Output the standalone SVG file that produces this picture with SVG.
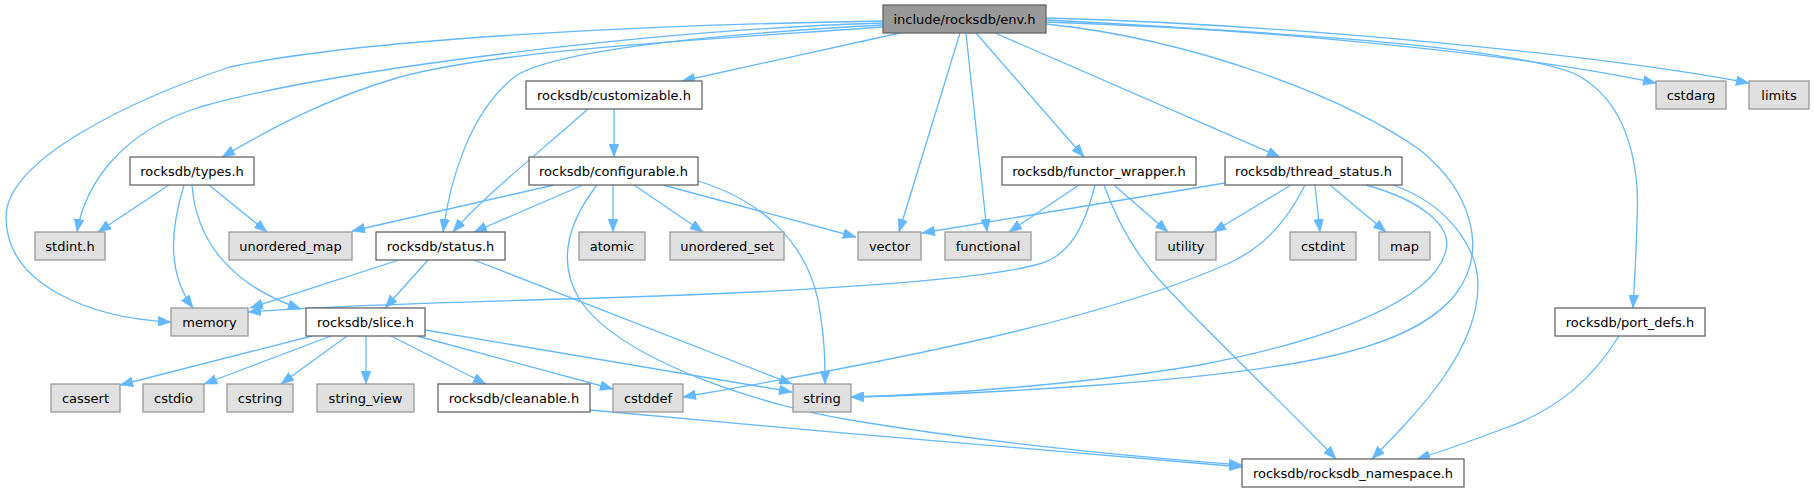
<svg xmlns="http://www.w3.org/2000/svg" width="1814" height="492" viewBox="0 0 1814 492">
<style>
rect{stroke-width:1.3}
.n rect{fill:#ffffff;stroke:#666666}
.x rect{fill:#e0e0e0;stroke:#999999}
.r rect{fill:#999999;stroke:#666666}
text{font-family:"DejaVu Sans","Liberation Sans",sans-serif;font-size:13px;fill:#000000;text-anchor:middle}
#edges path{fill:none;stroke:#63b8ff;stroke-width:1.3;marker-end:url(#ah)}
</style>
<defs>
<marker id="ah" viewBox="0 0 13 10" refX="13" refY="5" markerWidth="13" markerHeight="10" markerUnits="userSpaceOnUse" orient="auto">
<path d="M0,0 L13,5 L0,10 z" fill="#63b8ff" stroke="#63b8ff" stroke-width="0.5"/>
</marker>
</defs>
<rect width="1814" height="492" fill="#ffffff" stroke="none"/>
<g id="edges">
<path d="M883,21 C700,24 380,35 230,67 C130,100 6,160 6,217 C6,285 90,318 171,322"/>
<path d="M883,23 C650,30 330,70 200,107 C120,132 85,185 77,232"/>
<path d="M883,27 C700,40 500,50 400,77 C320,100 260,135 222,157"/>
<path d="M883,25 C700,35 560,50 517,75 C470,110 450,180 443,232"/>
<path d="M900,33 L682,81"/>
<path d="M960,33 L899,232"/>
<path d="M966,33 L987,232"/>
<path d="M976,33 L1084,157"/>
<path d="M995,33 L1280,157"/>
<path d="M1046,20 C1250,30 1500,50 1656,83"/>
<path d="M1046,18 C1300,25 1600,55 1749,83"/>
<path d="M1046,22 C1250,30 1500,45 1573,73 C1630,100 1640,170 1637,220 C1636,260 1634,290 1633,308"/>
<path d="M1046,24 C1200,40 1350,100 1420,150 C1470,190 1490,250 1455,295 C1410,350 1300,370 1100,385 C1000,392 900,396 851,397"/>
<path d="M614,109 L614,157"/>
<path d="M588,109 C530,160 480,200 453,232"/>
<path d="M169,185 L98,232"/>
<path d="M184,185 C172,225 165,270 193,308"/>
<path d="M192,185 C196,240 230,285 301,309"/>
<path d="M209,185 L267,232"/>
<path d="M554,185 L352,231"/>
<path d="M583,185 L474,232"/>
<path d="M613,185 L613,232"/>
<path d="M634,185 L703,232"/>
<path d="M663,185 L856,237"/>
<path d="M698,181 C760,200 805,240 818,300 C825,340 825,360 825,384"/>
<path d="M597,185 C570,220 555,260 580,300 C620,360 760,405 850,420 C1000,445 1150,458 1242,465"/>
<path d="M590,410 C800,430 1100,455 1242,467"/>
<path d="M399,260 L250,308"/>
<path d="M428,260 L385,308"/>
<path d="M474,260 L792,384"/>
<path d="M312,336 L120,385"/>
<path d="M331,336 L204,384"/>
<path d="M347,336 L281,384"/>
<path d="M366,336 L366,384"/>
<path d="M391,336 L486,384"/>
<path d="M417,336 L613,389"/>
<path d="M425,330 L792,392"/>
<path d="M1079,185 L1009,232"/>
<path d="M1114,185 L1168,232"/>
<path d="M1095,185 C1085,225 1070,258 1035,265 C980,280 800,292 600,298 C450,302 320,306 248,312"/>
<path d="M1104,185 C1120,230 1140,260 1164,285 C1220,345 1290,410 1336,459"/>
<path d="M1225,183 L922,233"/>
<path d="M1291,185 L1213,232"/>
<path d="M1315,185 L1320,232"/>
<path d="M1330,185 L1386,232"/>
<path d="M1305,185 C1285,225 1260,250 1225,265 C1100,320 900,360 683,397"/>
<path d="M1366,185 C1420,200 1452,225 1446,250 C1435,300 1330,340 1200,365 C1080,385 930,395 851,397"/>
<path d="M1393,185 C1450,205 1478,250 1478,285 C1478,350 1420,410 1372,459"/>
<path d="M1619,336 C1595,375 1560,410 1500,430 C1460,445 1440,452 1417,459"/>
</g>
<g id="env" class="r"><rect x="883" y="5" width="163" height="28"/><text x="964.5" y="23.5">include/rocksdb/env.h</text></g>
<g id="customizable" class="n"><rect x="526" y="81" width="176" height="28"/><text x="614" y="99.5">rocksdb/customizable.h</text></g>
<g id="cstdarg" class="x"><rect x="1656" y="81" width="70" height="28"/><text x="1691" y="99.5">cstdarg</text></g>
<g id="limits" class="x"><rect x="1749" y="81" width="60" height="28"/><text x="1779" y="99.5">limits</text></g>
<g id="types" class="n"><rect x="130" y="157" width="124" height="28"/><text x="192" y="175.5">rocksdb/types.h</text></g>
<g id="configurable" class="n"><rect x="529" y="157" width="169" height="28"/><text x="613.5" y="175.5">rocksdb/configurable.h</text></g>
<g id="functor_wrapper" class="n"><rect x="1002" y="157" width="194" height="28"/><text x="1099" y="175.5">rocksdb/functor_wrapper.h</text></g>
<g id="thread_status" class="n"><rect x="1225" y="157" width="177" height="28"/><text x="1313.5" y="175.5">rocksdb/thread_status.h</text></g>
<g id="stdint" class="x"><rect x="35" y="232" width="70" height="28"/><text x="70" y="250.5">stdint.h</text></g>
<g id="unordered_map" class="x"><rect x="229" y="232" width="123" height="28"/><text x="290.5" y="250.5">unordered_map</text></g>
<g id="status" class="n"><rect x="376" y="232" width="129" height="28"/><text x="440.5" y="250.5">rocksdb/status.h</text></g>
<g id="atomic" class="x"><rect x="579" y="232" width="66" height="28"/><text x="612" y="250.5">atomic</text></g>
<g id="unordered_set" class="x"><rect x="670" y="232" width="114" height="28"/><text x="727" y="250.5">unordered_set</text></g>
<g id="vector" class="x"><rect x="858" y="232" width="63" height="28"/><text x="889.5" y="250.5">vector</text></g>
<g id="functional" class="x"><rect x="945" y="232" width="86" height="28"/><text x="988" y="250.5">functional</text></g>
<g id="utility" class="x"><rect x="1156" y="232" width="60" height="28"/><text x="1186" y="250.5">utility</text></g>
<g id="cstdint" class="x"><rect x="1290" y="232" width="66" height="28"/><text x="1323" y="250.5">cstdint</text></g>
<g id="map" class="x"><rect x="1379" y="232" width="51" height="28"/><text x="1404.5" y="250.5">map</text></g>
<g id="memory" class="x"><rect x="171" y="308" width="77" height="28"/><text x="209.5" y="326.5">memory</text></g>
<g id="slice" class="n"><rect x="306" y="308" width="119" height="28"/><text x="365.5" y="326.5">rocksdb/slice.h</text></g>
<g id="port_defs" class="n"><rect x="1555" y="308" width="150" height="28"/><text x="1630" y="326.5">rocksdb/port_defs.h</text></g>
<g id="cassert" class="x"><rect x="51" y="384" width="69" height="28"/><text x="85.5" y="402.5">cassert</text></g>
<g id="cstdio" class="x"><rect x="143" y="384" width="61" height="28"/><text x="173.5" y="402.5">cstdio</text></g>
<g id="cstring" class="x"><rect x="227" y="384" width="66" height="28"/><text x="260" y="402.5">cstring</text></g>
<g id="string_view" class="x"><rect x="317" y="384" width="97" height="28"/><text x="365.5" y="402.5">string_view</text></g>
<g id="cleanable" class="n"><rect x="438" y="384" width="152" height="28"/><text x="514" y="402.5">rocksdb/cleanable.h</text></g>
<g id="cstddef" class="x"><rect x="613" y="384" width="70" height="28"/><text x="648" y="402.5">cstddef</text></g>
<g id="string" class="x"><rect x="793" y="384" width="58" height="28"/><text x="822" y="402.5">string</text></g>
<g id="rocksdb_namespace" class="n"><rect x="1242" y="459" width="222" height="28"/><text x="1353" y="477.5">rocksdb/rocksdb_namespace.h</text></g>
</svg>
